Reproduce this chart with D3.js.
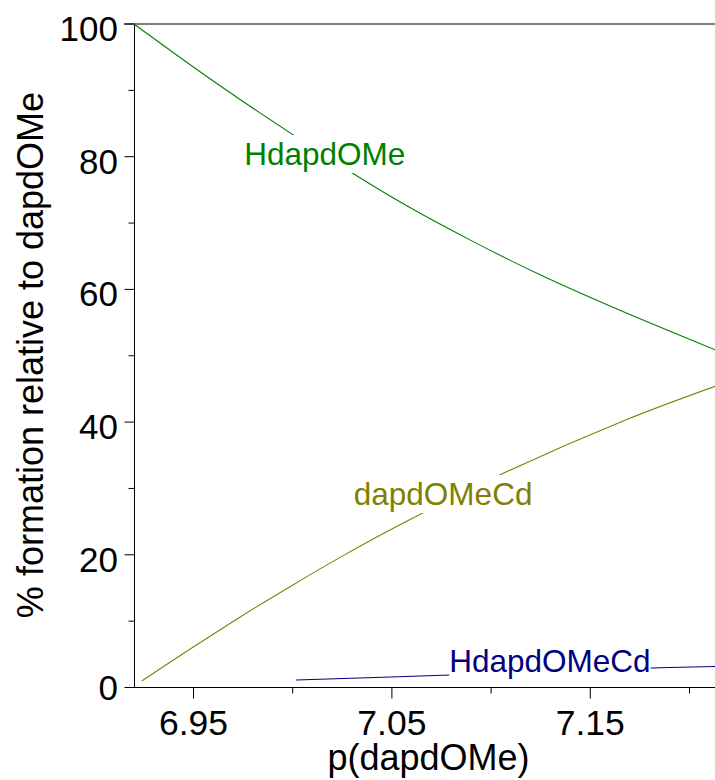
<!DOCTYPE html>
<html><head><meta charset="utf-8">
<script src="https://cdn.jsdelivr.net/npm/d3@7"></script>
<style>
body{margin:0;background:#fff}
svg{display:block}
text{font-family:"Liberation Sans",Arial,Helvetica,sans-serif}
</style>
</head><body>
<svg id="c" width="715" height="780"></svg>
<script>
// ---- data ----
const xMajorTicks = [6.95, 7.05, 7.15];
const xMinorTicks = [7.00, 7.10, 7.20];
const yMajorTicks = [0, 20, 40, 60, 80, 100];
const yMinorTicks = [10, 30, 50, 70, 90];
const xTitle = "p(dapdOMe)";
const yTitle = "% formation relative to dapdOMe";

const hX = [6.9200, 6.9533, 6.9785, 7.0012, 7.0302, 7.0575, 7.0910, 7.1247, 7.1599, 7.2129];
const hY = [100, 92.8, 87.6, 83.1, 77.5, 72.6, 67.2, 62.2, 57.5, 50.9];

const cdX = [6.9239, 6.9499, 6.9734, 7.0003, 7.0250, 7.0507, 7.1041, 7.1684, 7.2129];
const cdY = [0.98, 6.1, 10.6, 15.5, 19.8, 24.0, 32.0, 40.4, 45.4];

const hcdX = [7.0017, 7.0793, 7.1811, 7.2129];
const hcdY = [1.13, 1.88, 2.94, 3.17];

const seriesNames = ["HdapdOMe", "dapdOMeCd", "HdapdOMeCd"];
const seriesColors = ["#008000", "#808000", "#000080"];
const labelX = [6.9756, 7.0308, 7.0789];
const labelY = [78.75, 27.5, 2.29];

// ---- scales ----
const W = 715, H = 780;
const svg = d3.select("#c");
const x = d3.scaleLinear().domain([6.95, 7.20]).range([193.5, 689.5]);
const y = d3.scaleLinear().domain([0, 100]).range([687.5, 24]);
const xLeft = 134.5;
const yBottom = 687.5;

// top line at 100
svg.append("line").attr("x1", 124).attr("x2", W).attr("y1", y(100)).attr("y2", y(100))
  .attr("stroke", "#000").attr("stroke-width", 1);

// axes
const fmtX = d3.format(".2f");
const gx = svg.append("g").attr("transform", `translate(0,${yBottom})`)
  .call(d3.axisBottom(x).tickValues(xMajorTicks).tickSize(11).tickFormat(fmtX).offset(0));
gx.select(".domain").remove();
gx.selectAll("line").attr("stroke", "#000");
gx.selectAll("text").attr("y", 47.5).attr("dy", null).attr("font-size", 35.5).attr("fill", "#000")
  .attr("font-family", null);
const gxm = svg.append("g").attr("transform", `translate(0,${yBottom})`)
  .call(d3.axisBottom(x).tickValues(xMinorTicks).tickSize(6).tickFormat("").offset(0));
gxm.select(".domain").remove();
gxm.selectAll("line").attr("stroke", "#000");

const gy = svg.append("g").attr("transform", `translate(${xLeft},0)`)
  .call(d3.axisLeft(y).tickValues(yMajorTicks).tickSize(10).tickPadding(6.5).offset(0));
gy.select(".domain").remove();
gy.selectAll("line").attr("stroke", "#000");
gy.selectAll("text").attr("dy", d => d === 0 ? "12px" : "17px").attr("font-size", 35).attr("fill", "#000")
  .attr("font-family", null);
const gym = svg.append("g").attr("transform", `translate(${xLeft},0)`)
  .call(d3.axisLeft(y).tickValues(yMinorTicks).tickSize(6).tickFormat("").offset(0));
gym.select(".domain").remove();
gym.selectAll("line").attr("stroke", "#000");

// axis lines
svg.append("line").attr("x1", xLeft).attr("x2", xLeft).attr("y1", y(100)).attr("y2", yBottom)
  .attr("stroke", "#000");
svg.append("line").attr("x1", xLeft - 0.5).attr("x2", W).attr("y1", yBottom).attr("y2", yBottom)
  .attr("stroke", "#000");

// titles
svg.append("text").attr("x", 428.5).attr("y", 770).attr("text-anchor", "middle")
  .attr("font-size", 36).attr("fill", "#000").text(xTitle);
svg.append("text").attr("transform", "translate(43,355) rotate(-90)").attr("text-anchor", "middle")
  .attr("font-size", 36).attr("fill", "#000").text(yTitle);

// curves
const line = d3.line().x(d => x(d[0])).y(d => y(d[1])).curve(d3.curveCatmullRom.alpha(0.5));
const series = [d3.zip(hX, hY), d3.zip(cdX, cdY), d3.zip(hcdX, hcdY)];
series.forEach((pts, i) => {
  svg.append("path").datum(pts).attr("d", line).attr("fill", "none")
    .attr("stroke", seriesColors[i]).attr("stroke-width", 1.1);
});

// labels with white background
seriesNames.forEach((name, i) => {
  const g = svg.append("g");
  const t = g.append("text").attr("x", x(labelX[i])).attr("y", y(labelY[i]))
    .attr("font-size", 31.5).attr("fill", seriesColors[i]).text(name);
  const bb = t.node().getBBox();
  g.insert("rect", "text").attr("x", bb.x).attr("y", bb.y - 1)
    .attr("width", bb.width).attr("height", bb.height + 2).attr("fill", "#fff");
});
</script>
</body></html>
